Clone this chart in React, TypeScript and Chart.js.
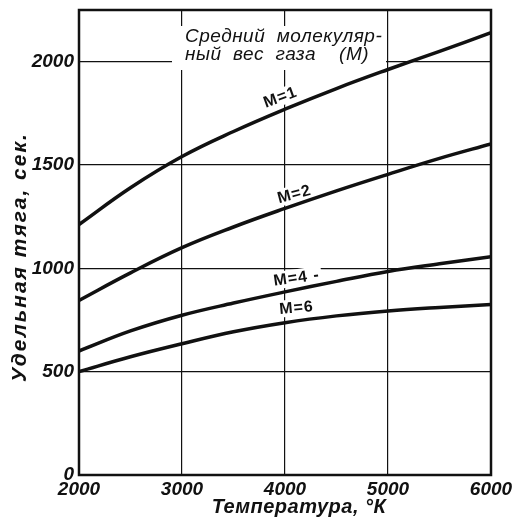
import React, { useEffect, useRef } from "react";
import { Chart, registerables } from "chart.js";
Chart.register(...registerables);

const temps = [2000, 2500, 3000, 3500, 4000, 4500, 5000, 5500, 6000];
const m1 = [1212, 1390, 1541, 1662, 1770, 1870, 1962, 2050, 2140];
const m2 = [845, 978, 1100, 1200, 1290, 1375, 1455, 1532, 1602];
const m4 = [600, 697, 773, 832, 886, 937, 985, 1022, 1056];
const m6 = [500, 572, 635, 693, 737, 770, 794, 811, 825];
const seriesValues = [m1, m2, m4, m6];
const seriesLabels = ["M=1", "M=2", "M=4 -", "M=6"];
const labelAtX = [3957, 4093, 4113, 4112];
const labelAtY = [1826, 1357, 952, 807];
const labelAngle = [-20, -15, -8, -5];
const xTicks = [2000, 3000, 4000, 5000, 6000];
const yTicks = [0, 500, 1000, 1500, 2000];
const noteLines = ["Средний  молекуляр-", "ный  вес  газа    (М)"];
const xTitle = "Температура, °К";
const yTitle = "Удельная тяга, сек.";

const INK = "#111";
const FAMILY = "'Liberation Sans', Arial, sans-serif";

const annotations = {
  id: "annotations",
  beforeDatasetsDraw(chart: any) {
    const { ctx, chartArea, scales } = chart;
    ctx.save();
    const L = chartArea.left;
    const T = chartArea.top;
    // note box (hides grid)
    ctx.fillStyle = "#fff";
    ctx.fillRect(L + 93, T + 16, 214, 44);
    ctx.font = "italic 19px " + FAMILY;
    ctx.fillStyle = INK;
    ctx.textBaseline = "alphabetic";
    ctx.textAlign = "left";
    (ctx as any).letterSpacing = "0.5px";
    ctx.fillText(noteLines[0], L + 106, T + 32);
    ctx.fillText(noteLines[1], L + 106, T + 50);
    // series labels
    ctx.font = "bold 16px " + FAMILY;
    (ctx as any).letterSpacing = "1px";
    seriesLabels.forEach((t, i) => {
      const px = scales.x.getPixelForValue(labelAtX[i]);
      const py = scales.y.getPixelForValue(labelAtY[i]);
      ctx.save();
      ctx.translate(px, py);
      ctx.rotate((labelAngle[i] * Math.PI) / 180);
      const w = ctx.measureText(t).width;
      ctx.fillStyle = "#fff";
      ctx.fillRect(-w / 2 - 2, -9, w + 4, 17);
      ctx.fillStyle = INK;
      ctx.textAlign = "center";
      ctx.textBaseline = "middle";
      ctx.fillText(t, 0, 0);
      ctx.restore();
    });
    (ctx as any).letterSpacing = "0px";
    ctx.restore();
  },
  afterDraw(chart: any) {
    const { ctx, chartArea } = chart;
    ctx.save();
    ctx.strokeStyle = INK;
    ctx.lineWidth = 2.5;
    ctx.strokeRect(
      chartArea.left,
      chartArea.top,
      chartArea.right - chartArea.left,
      chartArea.bottom - chartArea.top
    );
    // axis titles
    ctx.fillStyle = INK;
    ctx.font = "bold italic 20px " + FAMILY;
    (ctx as any).letterSpacing = "0.5px";
    ctx.textAlign = "center";
    ctx.textBaseline = "alphabetic";
    ctx.fillText(xTitle, chartArea.left + 220, chartArea.bottom + 38);
    ctx.translate(26, chartArea.top + 247);
    ctx.rotate(-Math.PI / 2);
    (ctx as any).letterSpacing = "2px";
    ctx.font = "bold italic 21px " + FAMILY;
    ctx.fillText(yTitle, 0, 0);
    (ctx as any).letterSpacing = "0px";
    ctx.restore();
  },
};

export default function App() {
  const ref = useRef<HTMLCanvasElement>(null);
  useEffect(() => {
    const tickFont = { family: FAMILY, size: 19, style: "italic" as const, weight: "bold" as const };
    const chart = new Chart(ref.current!, {
      type: "line",
      data: {
        datasets: seriesValues.map((vals, i) => ({
          label: seriesLabels[i],
          data: temps.map((t, j) => ({ x: t, y: vals[j] })),
          borderColor: INK,
          borderWidth: 3.5,
          pointRadius: 0,
          tension: 0.4,
          fill: false,
        })),
      },
      options: {
        animation: false,
        responsive: true,
        maintainAspectRatio: false,
        layout: { padding: { top: 10, right: 27, left: 0, bottom: 0 } },
        plugins: { legend: { display: false }, tooltip: { enabled: false } },
        scales: {
          x: {
            type: "linear",
            min: 2000,
            max: 6000,
            afterBuildTicks: (s: any) => {
              s.ticks = xTicks.map((v) => ({ value: v }));
            },
            afterFit: (s: any) => {
              s.height = 51;
              s.paddingLeft = 0;
              s.paddingRight = 0;
            },
            grid: { color: INK, lineWidth: 1.2, drawTicks: false },
            border: { display: false },
            ticks: {
              color: INK,
              font: tickFont,
              padding: 3,
              maxRotation: 0,
              callback: (v: any) => String(v),
            },
          },
          y: {
            type: "linear",
            min: 0,
            max: 2250,
            afterBuildTicks: (s: any) => {
              s.ticks = yTicks.map((v) => ({ value: v }));
            },
            afterFit: (s: any) => {
              s.width = 79;
              s.paddingTop = 0;
              s.paddingBottom = 0;
            },
            grid: { color: INK, lineWidth: 1.2, drawTicks: false },
            border: { display: false },
            ticks: {
              color: INK,
              font: tickFont,
              padding: 5,
              callback: (v: any) => String(v),
            },
          },
        },
      },
      plugins: [annotations],
    });
    return () => chart.destroy();
  }, []);
  return (
    <div style={{ position: "fixed", left: 0, top: 0, width: 518, height: 526, background: "#fff" }}>
      <canvas ref={ref} />
    </div>
  );
}
